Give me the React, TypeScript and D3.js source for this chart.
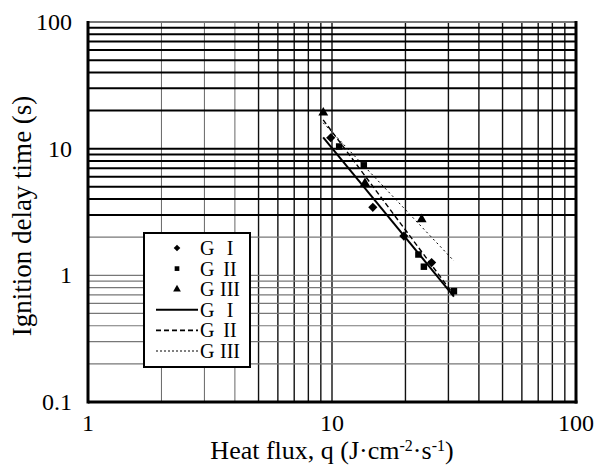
import React from 'react';
import * as d3 from 'd3';

// ---- data ----
const xTickValues = [1, 10, 100];
const xTickLabels = ['1', '10', '100'];
const yTickValues = [0.1, 1, 10, 100];
const yTickLabels = ['0.1', '1', '10', '100'];

const g1X = [9.88, 14.7, 19.7, 25.6];
const g1Y = [12.2, 3.44, 2.04, 1.26];
const g2X = [10.7, 13.5, 22.6, 23.8, 31.6];
const g2Y = [10.4, 7.39, 1.46, 1.17, 0.75];
const g3X = [9.21, 13.65, 23.3];
const g3Y = [19.2, 5.33, 2.77];

const fitX = [9.2, 31.6];
const fit1Y = [12.3, 0.68];
const fit2Y = [16.9, 0.7];
const fit3Y = [16.0, 1.3];

const legendNames = ['I', 'II', 'III'];

const W = 606, H = 468;
const M = { left: 88, right: 30, top: 22, bottom: 66 };
const FONT = "Liberation Serif, DejaVu Serif, serif";

export default function App() {
  const x = d3.scaleLog().domain([1, 100]).range([M.left, W - M.right]);
  const y = d3.scaleLog().domain([0.1, 100]).range([H - M.bottom, M.top]);

  const xGrid: number[] = [];
  [1, 10].forEach((d) => { for (let k = 2; k <= 9; k++) xGrid.push(d * k); });
  xGrid.push(10);
  const yGrid: number[] = [];
  [0.1, 1, 10].forEach((d) => { for (let k = 2; k <= 9; k++) yGrid.push(+(d * k).toFixed(3)); });
  yGrid.push(1, 10);

  const line = d3.line<[number, number]>().x((d) => x(d[0])).y((d) => y(d[1]));
  const pts = (xs: number[], ys: number[]) => xs.map((v, i) => [v, ys[i]] as [number, number]);

  const square = d3.symbol().type(d3.symbolSquare);
  const tri = d3.symbol().type(d3.symbolTriangle);

  const x0 = M.left, x1 = W - M.right, y0 = M.top, y1 = H - M.bottom;

  const lgX = 144, lgY = 233, lgW = 106, lgH = 134;
  const rowY = (i: number) => lgY + 15 + i * 20.6;

  return (
    <svg width={W} height={H} style={{ position: 'absolute', left: 0, top: 0, background: '#fff' }} fontFamily={FONT}>
      <rect x={0} y={0} width={W} height={H} fill="#fff" />
      {/* vertical grid */}
      {xGrid.map((v, i) => {
        const light = v < 5;
        return (
          <line key={'vx' + i} x1={x(v)} x2={x(v)} y1={y0} y2={y1}
            stroke={light ? '#666' : '#111'} strokeWidth={light ? 1 : 1.4} />
        );
      })}
      {/* horizontal grid */}
      {yGrid.map((v, i) => {
        const heavy = v >= 3;
        return (
          <line key={'hy' + i} x1={x0} x2={x1} y1={y(v)} y2={y(v)}
            stroke={heavy ? '#000' : '#777'} strokeWidth={heavy ? 2 : 1.2} />
        );
      })}
      {/* frame */}
      <line x1={x0} x2={x1} y1={y0} y2={y0} stroke="#777" strokeWidth={2} />
      <line x1={x0} x2={x0} y1={y0 - 1} y2={y1 + 1.5} stroke="#000" strokeWidth={3} />
      <line x1={x1} x2={x1} y1={y0 - 1} y2={y1 + 1.5} stroke="#000" strokeWidth={3} />
      <line x1={x0} x2={x1 + 1.5} y1={y1} y2={y1} stroke="#000" strokeWidth={3} />

      {/* fit lines */}
      <path d={line(pts(fitX, fit1Y)) || ''} fill="none" stroke="#000" strokeWidth={2} />
      <path d={line(pts(fitX, fit2Y)) || ''} fill="none" stroke="#000" strokeWidth={1.4} strokeDasharray="5,3" />
      <path d={line(pts(fitX, fit3Y)) || ''} fill="none" stroke="#000" strokeWidth={1} strokeDasharray="2,3" />

      {/* points */}
      {pts(g1X, g1Y).map((p, i) => (
        <path key={'d' + i} d={square.size(42)() || ''} transform={`translate(${x(p[0])},${y(p[1])}) rotate(45)`} fill="#000" />
      ))}
      {pts(g2X, g2Y).map((p, i) => (
        <path key={'s' + i} d={square.size(42)() || ''} transform={`translate(${x(p[0])},${y(p[1])})`} fill="#000" />
      ))}
      {pts(g3X, g3Y).map((p, i) => (
        <path key={'t' + i} d={tri.size(42)() || ''} transform={`translate(${x(p[0])},${y(p[1])})`} fill="#000" />
      ))}

      {/* tick labels */}
      {xTickValues.map((v, i) => (
        <text key={'xt' + i} x={x(v)} y={y1 + 29} textAnchor="middle" fontSize={24}>{xTickLabels[i]}</text>
      ))}
      {yTickValues.map((v, i) => (
        <text key={'yt' + i} x={x0 - 16} y={y(v) + 8} textAnchor="end" fontSize={24}>{yTickLabels[i]}</text>
      ))}

      {/* axis titles */}
      <text x={(x0 + x1) / 2} y={H - 9} textAnchor="middle" fontSize={26}>
        Heat flux, q (J·cm<tspan baselineShift="super" fontSize={16}>-2</tspan>·s<tspan baselineShift="super" fontSize={16}>-1</tspan>)
      </text>
      <text transform={`translate(31,216) rotate(-90)`} textAnchor="middle" fontSize={27}>
        Ignition delay time (s)
      </text>

      {/* legend */}
      <rect x={lgX} y={lgY} width={lgW} height={lgH} fill="#fff" stroke="#000" strokeWidth={2} />
      {[square.size(22)(), square.size(22)(), tri.size(26)()].map((d, i) => (
        <path key={'lm' + i} d={d || ''} transform={`translate(177,${rowY(i)})${i === 0 ? ' rotate(45)' : ''}`} fill="#000" />
      ))}
      <line x1={156} x2={198} y1={rowY(3)} y2={rowY(3)} stroke="#000" strokeWidth={2} />
      <line x1={156} x2={198} y1={rowY(4)} y2={rowY(4)} stroke="#000" strokeWidth={1.6} strokeDasharray="5,3" />
      <line x1={156} x2={198} y1={rowY(5)} y2={rowY(5)} stroke="#000" strokeWidth={1} strokeDasharray="2,2" />
      {[0, 1, 2, 3, 4, 5].map((i) => (
        <g key={'lt' + i}>
          <text x={200} y={rowY(i) + 7} fontSize={20}>G</text>
          <text x={230} y={rowY(i) + 7} fontSize={20} textAnchor="middle">{legendNames[i % 3]}</text>
        </g>
      ))}
    </svg>
  );
}
